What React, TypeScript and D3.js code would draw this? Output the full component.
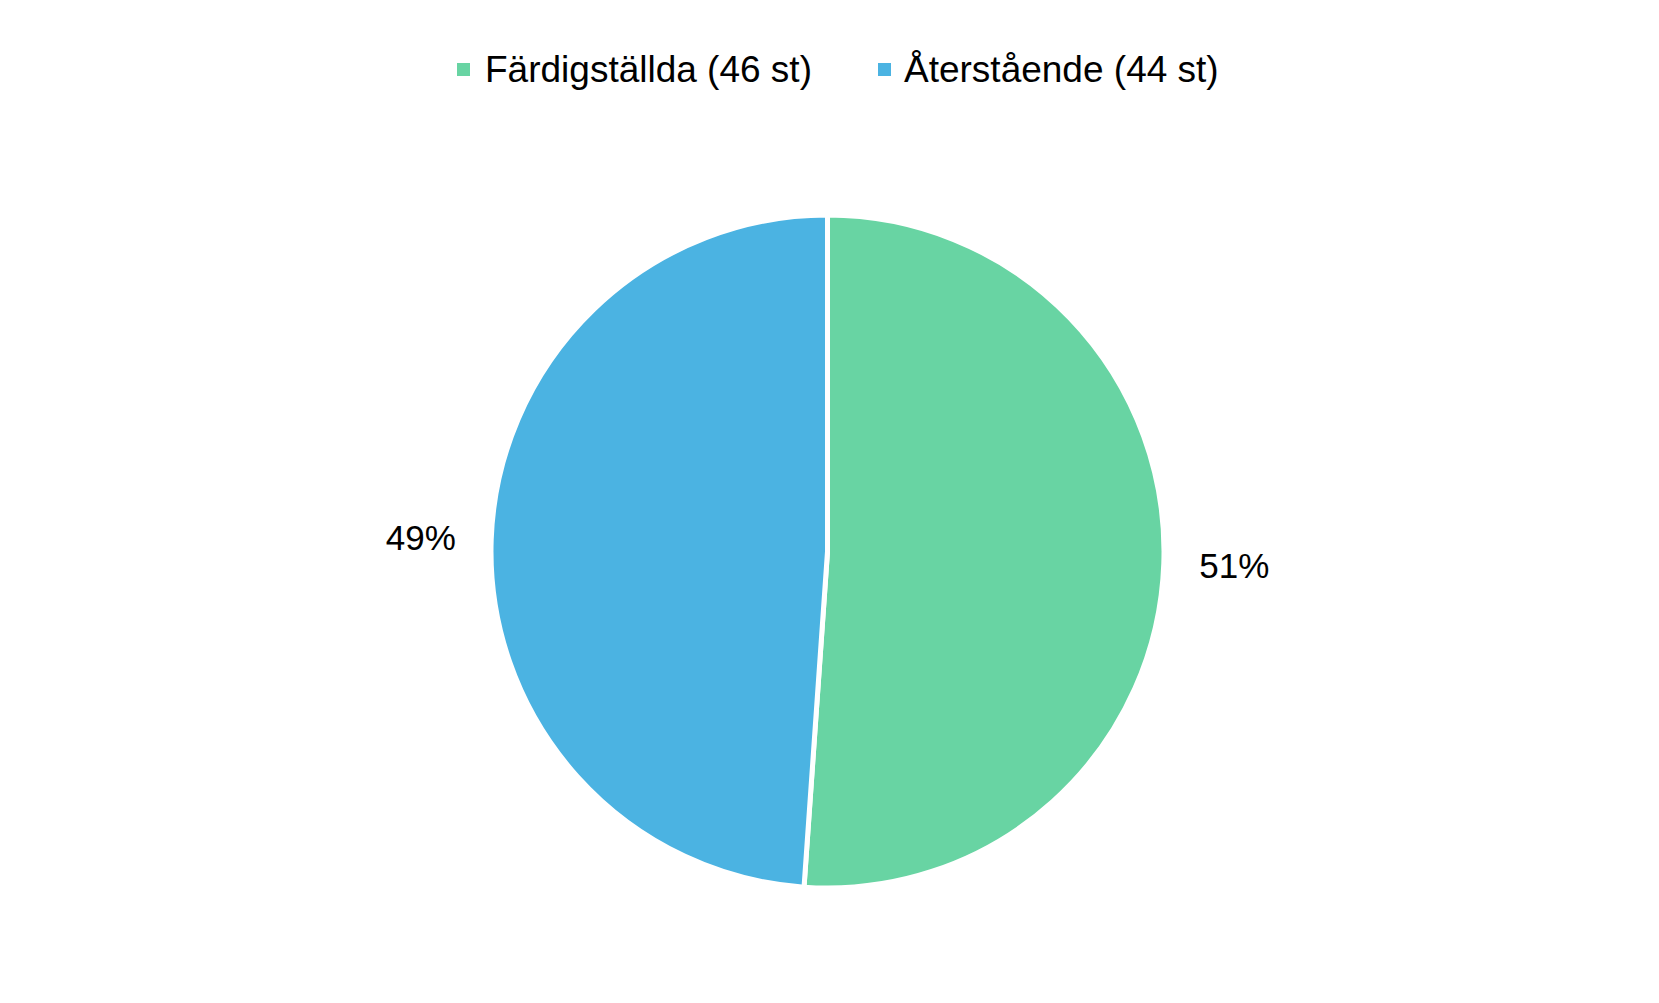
import React from "react";
import * as d3 from "d3";

const categories = ["Färdigställda (46 st)", "Återstående (44 st)"];
const values = [46, 44];
const colors = ["#68D4A3", "#4BB3E2"];

const W = 1659;
const H = 1003;
const cx = 827.5;
const cy = 551.5;
const R = 336.5;

export default function App() {
  const total = d3.sum(values);
  const pie = d3.pie<number>().sort(null).value((d) => d)(values);
  const arc = d3.arc<d3.PieArcDatum<number>>().innerRadius(0).outerRadius(R);
  const labelArc = d3.arc<d3.PieArcDatum<number>>().innerRadius(407).outerRadius(407);
  const legendX = [457, 878];
  const legendTextX = [485, 904];
  return (
    <svg width={W} height={H} style={{ position: "absolute", left: 0, top: 0, background: "#fff" }}>
      <rect width={W} height={H} fill="#fff" />
      <g transform={`translate(${cx},${cy})`}>
        {pie.map((p, i) => (
          <path key={i} d={arc(p) || ""} fill={colors[i]} stroke="#fff" strokeWidth={5} strokeLinejoin="round" />
        ))}
        {pie.map((p, i) => {
          const [x, y] = labelArc.centroid(p);
          return (
            <text key={i} x={x} y={y} dy="0.36em" textAnchor="middle" fontFamily="Liberation Sans, Arial, sans-serif" fontSize={35} fill="#000">
              {Math.round((values[i] / total) * 100)}%
            </text>
          );
        })}
      </g>
      {categories.map((c, i) => (
        <g key={c}>
          <rect x={legendX[i]} y={63} width={13} height={13} fill={colors[i]} />
          <text x={legendTextX[i]} y={81.5} fontFamily="Liberation Sans, Arial, sans-serif" fontSize={37} fill="#000">
            {c}
          </text>
        </g>
      ))}
    </svg>
  );
}
